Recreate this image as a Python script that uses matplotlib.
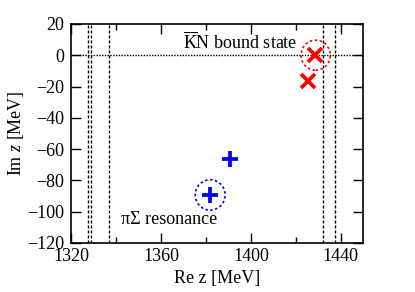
import matplotlib.pyplot as plt
from matplotlib.patches import Ellipse
from matplotlib.ticker import MultipleLocator

plt.rcParams["font.family"] = ["Liberation Serif", "DejaVu Serif"]
plt.rcParams["mathtext.fontset"] = "custom"
plt.rcParams["mathtext.rm"] = "Liberation Serif"
plt.rcParams["mathtext.it"] = "Liberation Serif:italic"

# pole positions (Re z, Im z) in MeV
kbar_n_re = [1428.6, 1425.5]
kbar_n_im = [0.0, -16.5]
pi_sigma_re = [1390.5, 1381.9]
pi_sigma_im = [-66.5, -89.3]

# thresholds
thresholds_pisigma = [1327.6, 1328.9, 1337.0]
thresholds_kbarn = [1432.0, 1437.2]

fig = plt.figure(figsize=(4.15, 2.92), dpi=100)
ax = fig.add_axes([0.171, 0.168, 0.7045, 0.750])

for x in thresholds_pisigma + thresholds_kbarn:
    ax.axvline(x, color="black", lw=1.0, ls=(0, (2.2, 1.4)), zorder=1)
ax.axhline(0, color="black", lw=1.0, ls=(0, (1, 1)), zorder=1)

ax.plot(kbar_n_re, kbar_n_im, "x", color="red", ms=10.5, mew=2.7, zorder=3)
ax.plot(pi_sigma_re, pi_sigma_im, "+", color="blue", ms=11.5, mew=2.7, zorder=3)

# circles around the selected poles
ax.add_patch(Ellipse((kbar_n_re[0] + 0.2, kbar_n_im[0]), 13.0, 19.2, fill=False,
                     edgecolor="red", lw=1.2, ls=(0, (1.5, 1.5)), zorder=2))
ax.add_patch(Ellipse((pi_sigma_re[1], pi_sigma_im[1]), 13.3, 19.4, fill=False,
                     edgecolor="blue", lw=1.2, ls=(0, (1.5, 1.5)), zorder=2))

ax.text(1420.8, 4.3, r"$\overline{\mathrm{K}}\mathrm{N}$ bound state", fontsize=13,
        ha="right", va="baseline")
ax.text(1342.3, -108, "πΣ resonance", fontsize=13, ha="left", va="baseline")

ax.set_xlim(1320, 1450)
ax.set_ylim(-120, 20)
ax.xaxis.set_major_locator(MultipleLocator(40))
ax.xaxis.set_minor_locator(MultipleLocator(20))
ax.yaxis.set_major_locator(MultipleLocator(20))
ax.tick_params(which="both", direction="in", top=True, right=True, labelsize=13, width=1.0)
ax.tick_params(which="major", length=7)
ax.tick_params(which="minor", length=4)
ax.tick_params(axis="x", pad=4)
ax.tick_params(axis="y", pad=5)
for s in ax.spines.values():
    s.set_linewidth(1.2)

ax.set_xlabel("Re z [MeV]", fontsize=13, labelpad=3)
ax.set_ylabel(r"Im $z$ [MeV]", fontsize=13, labelpad=1)

fig.savefig("out.png", dpi=100)
